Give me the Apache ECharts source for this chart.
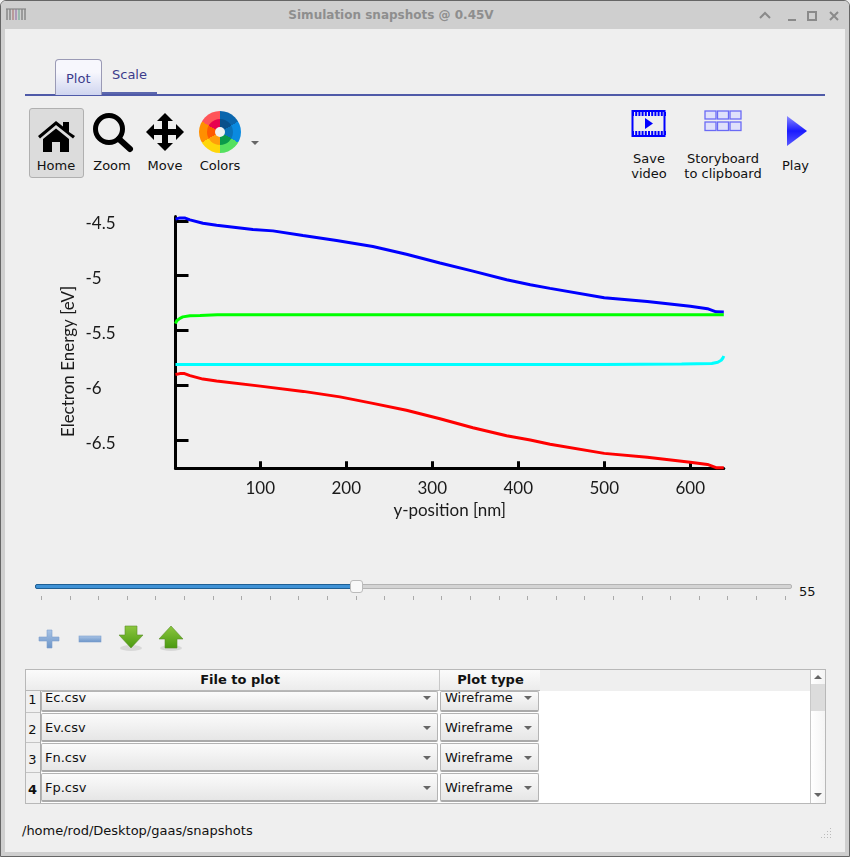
<!DOCTYPE html>
<html><head><meta charset="utf-8">
<script src="https://cdn.jsdelivr.net/npm/echarts@6/dist/echarts.min.js"></script>
<style>
html,body{margin:0;padding:0;background:#fff;}
#win{position:relative;width:850px;height:857px;overflow:hidden;font-family:"DejaVu Sans",sans-serif;font-size:13px;color:#111;background:#efefef;}
#win div,#win svg{position:absolute;}
.t{white-space:nowrap;line-height:16px;height:16px;}
.c{transform:translateX(-50%);text-align:center;}
.combo{box-sizing:border-box;background:linear-gradient(#fbfbfb,#e6e6e6);border:1px solid #b4b4b4;border-bottom:2px solid #aaa;border-radius:2px;}
.arr{width:0;height:0;border-left:4px solid transparent;border-right:4px solid transparent;border-top:4px solid #666;}
#chart{left:0;top:0;width:850px;height:857px;}
</style></head>
<body><div id="win">
<!-- frame -->
<div style="left:0;top:0;width:850px;height:857px;box-sizing:border-box;border:1px solid #666;border-radius:6px 6px 0 0;"></div>
<div style="left:1px;top:1px;width:848px;height:28px;background:#cfcfcf;border-radius:5px 5px 0 0;"></div>
<div style="left:1px;top:29px;width:4px;height:827px;background:#cfcfcf;"></div>
<div style="left:845px;top:29px;width:4px;height:827px;background:#cfcfcf;"></div>
<div style="left:1px;top:852px;width:848px;height:4px;background:#cfcfcf;"></div>
<svg style="left:6px;top:8px" width="21" height="14"><g fill="none" stroke-width="1.2"><path d="M1 1v11M4 1v11" stroke="#777"/><path d="M7 1v11" stroke="#a77"/><path d="M10 1v11" stroke="#97a"/><path d="M13 1v11" stroke="#7a9"/><path d="M16 1v11M19 1v11" stroke="#777"/><path d="M0 1h20" stroke="#888"/></g></svg>
<div class="t c" style="left:391px;top:7px;font-weight:bold;font-size:12px;color:#8e8e8e;">Simulation snapshots @ 0.45V</div>
<svg style="left:758px;top:8px" width="85" height="16"><g fill="none" stroke="#8a8a8a" stroke-width="2"><path d="M2 10l5-5 5 5"/><path d="M30 12h8"/><rect x="50" y="4" width="8" height="8"/><path d="M72 4l8 8M80 4l-8 8"/></g></svg>

<!-- tabs -->
<div style="left:25px;top:94px;width:800px;height:2px;background:#4f5aa8;"></div>
<div style="left:101px;top:92px;width:56px;height:2px;background:#5b66ad;"></div>
<div style="left:55px;top:59px;width:47px;height:36px;box-sizing:border-box;border:1px solid #9a9ab5;border-bottom:none;border-radius:4px 4px 0 0;background:linear-gradient(#f7f7fd 35%,#cfd5ef);"></div>
<div class="t" style="left:66px;top:71px;color:#3c3c8c;">Plot</div>
<div class="t" style="left:112px;top:67px;color:#3c3c8c;">Scale</div>

<!-- toolbar -->
<div style="left:29px;top:108px;width:55px;height:70px;box-sizing:border-box;background:#dcdcdc;border:1px solid #b0b0b0;border-radius:3px;"></div>
<svg style="left:36px;top:118px" width="42" height="36"><path d="M2 18L20 3l7 5.5V4h6v10l6 4-2 2.5L20 7 4 20.5z" fill="#000"/><path d="M7 21L20 10.5 33 21v13H24V24h-8v10H7z" fill="#000"/></svg>
<svg style="left:92px;top:112px" width="42" height="42"><circle cx="17" cy="17" r="13.5" fill="none" stroke="#000" stroke-width="5"/><path d="M27 27L38 37" stroke="#000" stroke-width="6" stroke-linecap="round"/></svg>
<svg style="left:144px;top:111px" width="42" height="42"><path d="M21 2l8 8h-5v8h8v-5l8 8-8 8v-5h-8v8h5l-8 8-8-8h5v-8H10v5l-8-8 8-8v5h8v-8h-5z" fill="#000"/></svg>
<div style="left:199px;top:111px;width:42px;height:42px;border-radius:50%;background:conic-gradient(#0a66ad 0 60deg,#0a8ae0 60deg 120deg,#55e060 120deg 180deg,#ffd60a 180deg 240deg,#ff8f00 240deg 300deg,#ff5458 300deg 360deg);"></div>
<div style="left:207px;top:119px;width:26px;height:26px;border-radius:50%;background:conic-gradient(#09508a 0 60deg,#0a72b8 60deg 120deg,#0a9a4a 120deg 180deg,#ff9f0a 180deg 240deg,#ff5a00 240deg 300deg,#e8004f 300deg 360deg);"></div>
<div style="left:215px;top:127px;width:10px;height:10px;border-radius:50%;background:#f0f0f0;"></div>
<div class="arr" style="left:251px;top:141px;"></div>
<div class="t c" style="left:56px;top:158px;">Home</div>
<div class="t c" style="left:112px;top:158px;">Zoom</div>
<div class="t c" style="left:165px;top:158px;">Move</div>
<div class="t c" style="left:220px;top:158px;">Colors</div>

<svg style="left:631px;top:109px" width="36" height="29"><rect x="1.5" y="2" width="32" height="25" fill="none" stroke="#0000ff" stroke-width="2"/><path d="M1 5h34M1 24h34" stroke="#0000ff" stroke-width="4" stroke-dasharray="2 1.2"/><path d="M14 9l8 5.5-8 5.5z" fill="#0000ff"/></svg>
<svg style="left:704px;top:110px" width="39" height="22"><g fill="#dfe0fb" stroke="#6a6af5" stroke-width="1.3"><rect x="1" y="1" width="11" height="8"/><rect x="13.500" y="1" width="11" height="8"/><rect x="26" y="1" width="11" height="8"/><rect x="1" y="12" width="11" height="8.500"/><rect x="13.500" y="12" width="11" height="8.500"/><rect x="26" y="12" width="11" height="8.500"/></g></svg>
<svg style="left:785px;top:115px" width="24" height="32"><defs><linearGradient id="pl" x1="0" y1="0" x2="0" y2="1"><stop offset="0" stop-color="#8a8aff"/><stop offset=".5" stop-color="#1a1aff"/><stop offset="1" stop-color="#5a5aff"/></linearGradient></defs><path d="M2 1l20 15-20 15z" fill="url(#pl)"/></svg>
<div class="t c" style="left:649px;top:151px;">Save</div>
<div class="t c" style="left:649px;top:166px;">video</div>
<div class="t c" style="left:723px;top:151px;">Storyboard</div>
<div class="t c" style="left:723px;top:166px;">to clipboard</div>
<div class="t c" style="left:795.5px;top:158px;">Play</div>

<!-- slider -->
<div style="left:35px;top:584px;width:757px;height:5px;box-sizing:border-box;background:#d4d4d4;border:1px solid #b4b4b4;border-radius:2px;"></div>
<div style="left:35px;top:584px;width:320px;height:5px;box-sizing:border-box;background:#3f92d6;border:1px solid #1f5f94;border-radius:2px;"></div>
<div style="left:350px;top:580px;width:13px;height:13px;box-sizing:border-box;background:#f8f8f8;border:1px solid #bbb;border-radius:3px;"></div>
<div id="ticks" style="left:0;top:0;"></div>
<div class="t" style="left:799px;top:584px;">55</div>

<!-- table buttons -->
<svg style="left:37px;top:627px" width="24" height="24"><defs><linearGradient id="bl" x1="0" y1="0" x2="0" y2="1"><stop offset="0" stop-color="#a9c4e6"/><stop offset="1" stop-color="#6c95c8"/></linearGradient></defs><path d="M10 3h5v7h7v4h-7v7h-5v-7H2v-4h8z" fill="url(#bl)" stroke="#7c9fcc" stroke-width=".6"/></svg>
<svg style="left:78px;top:634px" width="24" height="10"><rect x="1" y="2" width="22" height="6" fill="url(#bl)" stroke="#7c9fcc" stroke-width=".6"/></svg>
<svg style="left:118px;top:625px" width="26" height="28"><defs><linearGradient id="gr" x1="0" y1="0" x2="0" y2="1"><stop offset="0" stop-color="#8cc63f"/><stop offset="1" stop-color="#4a9a10"/></linearGradient></defs><ellipse cx="13" cy="23" rx="11" ry="3" fill="#d8d8d8"/><path d="M7 1h12v9h6L13 23 1 10h6z" fill="url(#gr)" stroke="#5a8f2a" stroke-width=".6"/></svg>
<svg style="left:158px;top:625px" width="26" height="28"><ellipse cx="13" cy="23" rx="11" ry="3" fill="#d8d8d8"/><path d="M13 1l12 13h-6v9H7v-9H1z" fill="url(#gr)" stroke="#5a8f2a" stroke-width=".6"/></svg>

<!-- table -->
<div style="left:25px;top:669px;width:801px;height:135px;box-sizing:border-box;background:#fff;border:1px solid #b8b8b8;"></div>
<div style="left:26px;top:670px;width:784px;height:21px;background:#efefef;"></div>
<div style="left:26px;top:670px;width:514px;height:20px;background:linear-gradient(#fbfbfb,#ececec);border-bottom:1px solid #b8b8b8;"></div>
<div style="left:439px;top:670px;width:1px;height:21px;background:#c8c8c8;"></div>
<div class="t c" style="left:240px;top:672px;font-weight:bold;">File to plot</div>
<div class="t c" style="left:490.5px;top:672px;font-weight:bold;">Plot type</div>
<div style="left:26px;top:691px;width:14px;height:112px;background:#f0f0f0;border-right:1px solid #aaa;"></div>
<div style="left:26px;top:712px;width:14px;height:1px;background:#c4c4c4;"></div>
<div style="left:26px;top:742px;width:14px;height:1px;background:#c4c4c4;"></div>
<div style="left:26px;top:772px;width:14px;height:1px;background:#c4c4c4;"></div>
<div id="rows" style="left:0;top:0;"></div>
<!-- scrollbar -->
<div style="left:810px;top:670px;width:15px;height:133px;background:linear-gradient(90deg,#fff,#f4f4f4);border-left:1px solid #c8c8c8;box-sizing:border-box;"></div>
<div style="left:811px;top:684px;width:14px;height:27px;background:#dcdcdc;"></div>
<div class="arr" style="left:814px;top:675px;transform:rotate(180deg);"></div>
<div class="arr" style="left:814px;top:793px;"></div>

<div class="t" style="left:22px;top:823px;">/home/rod/Desktop/gaas/snapshots</div>
<svg style="left:821px;top:828px" width="12" height="12"><g fill="#bbb"><rect x="9" y="0" width="1" height="1"/><rect x="6" y="3" width="1" height="1"/><rect x="9" y="3" width="1" height="1"/><rect x="3" y="6" width="1" height="1"/><rect x="6" y="6" width="1" height="1"/><rect x="9" y="6" width="1" height="1"/><rect x="0" y="9" width="1" height="1"/><rect x="3" y="9" width="1" height="1"/><rect x="6" y="9" width="1" height="1"/><rect x="9" y="9" width="1" height="1"/></g></svg>

<div id="chart"></div>
</div>
<script>
// Chart values
const seriesNames = ['Ec', 'Ev', 'Fn', 'Fp'];
const yTicks = [-4.5, -5, -5.5, -6, -6.5];
const xTicks = [100, 200, 300, 400, 500, 600];
const ecX = [1.5, 6.6, 12, 18.3, 33.4, 49.3, 91.5, 114.8, 149.7, 188.8, 231, 270, 309, 347.3, 386.5, 414, 437, 500, 550, 600, 620, 630, 639];
const ecY = [-4.484, -4.473, -4.473, -4.491, -4.522, -4.54, -4.579, -4.591, -4.634, -4.679, -4.734, -4.804, -4.884, -4.958, -5.036, -5.082, -5.115, -5.2, -5.234, -5.279, -5.3, -5.329, -5.331];
const evX = [1.5, 6.6, 12, 18.3, 33.4, 49.3, 100, 150, 192.7, 231, 270, 309, 347.3, 386.5, 414, 437, 500, 550, 600, 620, 630, 639];
const evY = [-5.9, -5.892, -5.892, -5.91, -5.942, -5.96, -6.006, -6.054, -6.104, -6.163, -6.226, -6.304, -6.385, -6.458, -6.497, -6.535, -6.619, -6.655, -6.699, -6.72, -6.749, -6.751];
const fnX = [1.5, 3, 6.6, 10, 18.3, 30, 50, 100, 300, 500, 639];
const fnY = [-5.436, -5.41, -5.388, -5.375, -5.364, -5.362, -5.356, -5.355, -5.355, -5.355, -5.355];
const fpX = [1.5, 100, 300, 500, 590, 625, 632, 636, 638, 639];
const fpY = [-5.809, -5.809, -5.809, -5.809, -5.805, -5.8, -5.788, -5.77, -5.75, -5.731];
const seriesX = [ecX, evX, fnX, fpX];
const seriesY = [ecY, evY, fnY, fpY];
const seriesColors = ['#0000ff', '#ff0000', '#00ff00', '#00ffff'];
const fileNames = ['Ec.csv', 'Ev.csv', 'Fn.csv', 'Fp.csv'];

// interface bits
let h = '';
const sliderTickCount = 27;
for (let i = 0; i < sliderTickCount; i++) {
  h += '<div style="left:' + Math.round(41 + i * 28.6) + 'px;top:596px;width:1px;height:4px;background:#aaa;"></div>';
}
document.getElementById('ticks').innerHTML = h;
const rowTops = [691, 713, 743, 773];
const rowHeights = [21, 29, 29, 29];
const textTops = [690, 720, 750, 780];
let r = '';
fileNames.forEach((f, i) => {
  const top = rowTops[i], ht = rowHeights[i];
  r += '<div class="combo" style="left:41px;top:' + top + 'px;width:397px;height:' + ht + 'px;"></div>';
  r += '<div class="combo" style="left:440px;top:' + top + 'px;width:99px;height:' + ht + 'px;"></div>';
  r += '<div class="t" style="left:45px;top:' + textTops[i] + 'px;">' + f + '</div>';
  r += '<div class="t" style="left:445px;top:' + textTops[i] + 'px;">Wireframe</div>';
  r += '<div class="arr" style="left:423px;top:' + (textTops[i] + 6) + 'px;"></div>';
  r += '<div class="arr" style="left:524px;top:' + (textTops[i] + 6) + 'px;"></div>';
  r += '<div class="t c" style="left:32.500px;top:' + (textTops[i] + 2) + 'px;' + (i === 3 ? 'font-weight:bold;' : '') + '">' + (i + 1) + '</div>';
});
document.getElementById('rows').innerHTML = r;

const chart = echarts.init(document.getElementById('chart'), null, {renderer: 'canvas'});
const font = 'Lato';
chart.setOption({
  animation: false,
  backgroundColor: 'transparent',
  grid: {left: 175.5, top: 216.5, width: 548.3, height: 251.8, containLabel: false},
  xAxis: {
    type: 'value', min: 1.5, max: 639,
    name: 'y-position [nm]', nameLocation: 'middle', nameGap: 34,
    nameTextStyle: {fontFamily: font, fontSize: 17, color: '#1a1a1a'},
    axisLine: {lineStyle: {color: '#000', width: 3}},
    axisTick: {inside: true, length: 7, lineStyle: {color: '#000', width: 3}, customValues: xTicks},
    axisLabel: {fontFamily: font, fontSize: 17, color: '#1a1a1a', margin: 12, customValues: xTicks},
    splitLine: {show: false}
  },
  yAxis: {
    type: 'value', min: -6.755, max: -4.46,
    name: 'Electron Energy [eV]', nameLocation: 'middle', nameGap: 98, nameRotate: 90,
    nameMoveOverlap: false,
    nameTextStyle: {fontFamily: font, fontSize: 17, color: '#1a1a1a', padding: [0, 38, 0, 0]},
    axisLine: {lineStyle: {color: '#000', width: 3}},
    axisTick: {inside: true, length: 13, lineStyle: {color: '#000', width: 3}, customValues: yTicks},
    axisLabel: {fontFamily: font, fontSize: 17, color: '#1a1a1a', margin: 90, align: 'left', verticalAlign: 'top', lineHeight: 6, customValues: yTicks},
    splitLine: {show: false}
  },
  series: seriesNames.map((name, i) => ({
    name: name,
    type: 'line',
    showSymbol: false,
    clip: false,
    lineStyle: {color: seriesColors[i], width: 3},
    data: seriesX[i].map((x, k) => [x, seriesY[i][k]])
  }))
});
</script>
</body></html>
